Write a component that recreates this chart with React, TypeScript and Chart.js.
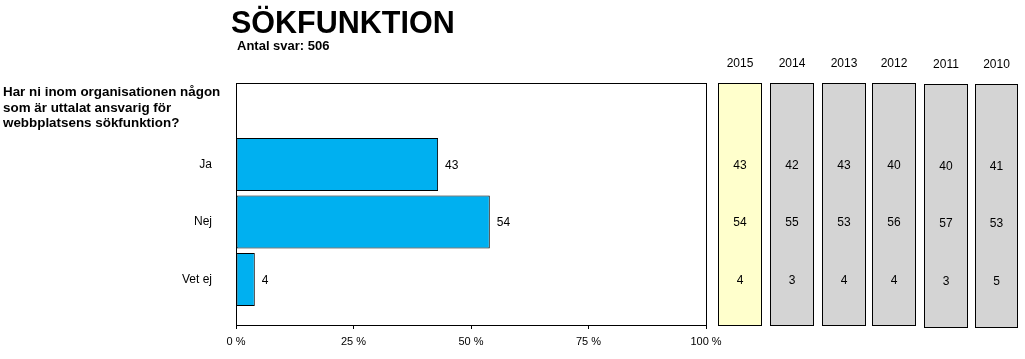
import React, { useEffect, useRef } from 'react';
import { Chart, registerables } from 'chart.js';

Chart.register(...registerables);

// ---- Data ----
const categories = ['Ja', 'Nej', 'Vet ej'];
const values2015 = [43, 54, 4];
const years = ['2015', '2014', '2013', '2012', '2011', '2010'];
const hist2015 = [43, 54, 4];
const hist2014 = [42, 55, 3];
const hist2013 = [43, 53, 4];
const hist2012 = [40, 56, 4];
const hist2011 = [40, 57, 3];
const hist2010 = [41, 53, 5];
const xTickValues = [0, 25, 50, 75, 100];
const titleText = 'SÖKFUNKTION';
const subtitleText = 'Antal svar: 506';
const questionLines = [
  'Har ni inom organisationen någon',
  'som är uttalat ansvarig för',
  'webbplatsens sökfunktion?',
];

const FONT = 'Arial, "Liberation Sans", Helvetica, sans-serif';
const W = 1025;
const H = 359;

// layout of the year boxes (left, right, top, bottom)
const boxLayout = [
  [718, 761, 83, 325],
  [770, 813, 83, 325],
  [822, 865, 83, 325],
  [872, 915, 83, 325],
  [924, 967, 84, 327],
  [975, 1017, 84, 327],
];

export default function App() {
  const canvasRef = useRef<HTMLCanvasElement | null>(null);

  useEffect(() => {
    const canvas = canvasRef.current;
    if (!canvas) return;
    const history = [hist2015, hist2014, hist2013, hist2012, hist2011, hist2010];

    const overlay = {
      id: 'overlay',
      afterDraw(chart: any) {
        const ctx = chart.ctx;
        const area = chart.chartArea;
        const yScale = chart.scales.y;
        ctx.save();
        // frame around plot area
        ctx.strokeStyle = '#000';
        ctx.lineWidth = 1;
        ctx.strokeRect(
          Math.round(area.left) + 0.5,
          Math.round(area.top) + 0.5,
          Math.round(area.right - area.left),
          Math.round(area.bottom - area.top)
        );
        // bar value labels
        ctx.fillStyle = '#000';
        ctx.font = `12px ${FONT}`;
        ctx.textAlign = 'left';
        ctx.textBaseline = 'middle';
        const meta = chart.getDatasetMeta(0);
        meta.data.forEach((bar: any, i: number) => {
          ctx.fillText(String(values2015[i]), bar.x + 7, bar.y + 1);
        });
        // year boxes
        years.forEach((yr, j) => {
          const [l, r, t, b] = boxLayout[j];
          ctx.fillStyle = j === 0 ? '#FFFFCC' : '#D4D4D4';
          ctx.fillRect(l, t, r - l, b - t);
          ctx.strokeStyle = '#000';
          ctx.strokeRect(l + 0.5, t + 0.5, r - l, b - t);
          ctx.fillStyle = '#000';
          ctx.textAlign = 'center';
          ctx.textBaseline = 'middle';
          ctx.font = `12px ${FONT}`;
          const cx = (l + r) / 2 + 0.5;
          ctx.fillText(yr, cx, t - 19);
          history[j].forEach((v, i) => {
            ctx.fillText(String(v), cx, yScale.getPixelForValue(i + 1) + 1 + (t - 83));
          });
        });
        ctx.restore();
      },
    };

    const chart = new Chart(canvas, {
      type: 'bar',
      data: {
        datasets: [
          {
            data: values2015.map((v, i) => ({ x: v, y: i + 1 })),
            backgroundColor: '#00B0F0',
            borderColor: '#000',
            borderWidth: 1,
            borderSkipped: false,
            categoryPercentage: 1,
            barPercentage: 0.92,
          },
        ],
      },
      options: {
        indexAxis: 'y',
        responsive: false,
        animation: false,
        events: [],
        layout: { padding: { left: 0, right: W - 706, top: 83, bottom: 0 } },
        plugins: { legend: { display: false }, tooltip: { enabled: false } },
        scales: {
          x: {
            type: 'linear',
            position: 'bottom',
            min: 0,
            max: 100,
            afterFit: (s: any) => {
              s.height = H - 325;
            },
            afterBuildTicks: (s: any) => {
              s.ticks = xTickValues.map((v) => ({ value: v }));
            },
            grid: {
              display: true,
              drawOnChartArea: false,
              drawTicks: true,
              tickLength: 4,
              color: '#000',
            },
            border: { display: false },
            ticks: {
              color: '#000',
              font: { family: FONT, size: 11 },
              padding: 6,
              maxRotation: 0,
              callback: (v: any) => `${v} %`,
            },
          },
          y: {
            type: 'linear',
            reverse: true,
            offset: false,
            min: -0.417,
            max: 3.791,
            afterFit: (s: any) => {
              s.width = 236;
            },
            afterBuildTicks: (s: any) => {
              s.ticks = categories.map((_, i) => ({ value: i + 1 }));
            },
            grid: { display: false, drawTicks: false, offset: false },
            border: { display: false },
            ticks: {
              color: '#000',
              font: { family: FONT, size: 12 },
              padding: 24,
              callback: (v: any) => categories[Number(v) - 1] ?? '',
            },
          },
        },
      },
      plugins: [overlay],
    });
    return () => chart.destroy();
  }, []);

  return (
    <div style={{ position: 'fixed', left: 0, top: 0, width: W, height: H, background: '#fff', fontFamily: FONT, color: '#000' }}>
      <canvas ref={canvasRef} width={W} height={H} style={{ position: 'absolute', left: 0, top: 0 }} />
      <div style={{ position: 'absolute', left: 231, top: 5, fontSize: 30.5, lineHeight: '34px', fontWeight: 'bold', whiteSpace: 'nowrap' }}>
        {titleText}
      </div>
      <div style={{ position: 'absolute', left: 237, top: 38, fontSize: 13, lineHeight: '15px', fontWeight: 'bold', whiteSpace: 'nowrap' }}>
        {subtitleText}
      </div>
      <div style={{ position: 'absolute', left: 3, top: 84, fontSize: 13.4, lineHeight: '15.5px', fontWeight: 'bold', whiteSpace: 'nowrap' }}>
        {questionLines.map((l) => (
          <div key={l}>{l}</div>
        ))}
      </div>
    </div>
  );
}
